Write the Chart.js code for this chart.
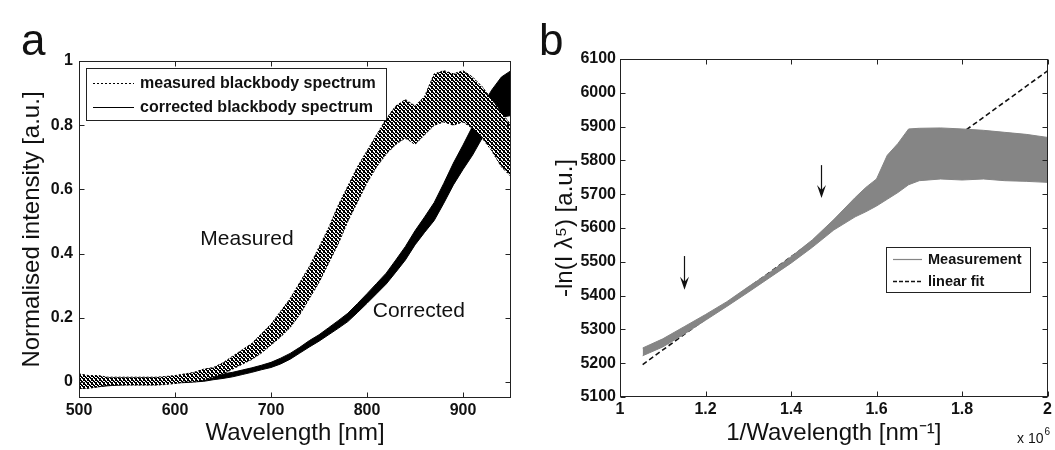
<!DOCTYPE html>
<html>
<head>
<meta charset="utf-8">
<script src="https://cdn.jsdelivr.net/npm/chart.js@4/dist/chart.umd.min.js"></script>
<style>
  html, body { margin: 0; padding: 0; background: #fff; }
  #wrap { position: relative; width: 1055px; height: 450px; overflow: hidden; }
  #chart-a { position: absolute; left: 0; top: 0; }
  #chart-b { position: absolute; left: 530px; top: 0; }
</style>
</head>
<body>
<div id="wrap">
  <canvas id="chart-a" width="530" height="450"></canvas>
  <canvas id="chart-b" width="525" height="450"></canvas>
</div>
<script>
// ---- panel a: blackbody spectrum (envelopes of the noisy traces) ----
const wavelengths = [500, 510, 520, 530, 540, 550, 560, 570, 580, 590,
  600, 610, 620, 630, 640, 650, 660, 670, 680, 690,
  700, 710, 720, 730, 740, 750, 760, 770, 780, 790,
  800, 810, 820, 830, 840, 850, 860, 870, 880, 890,
  900, 910, 920, 930, 940, 950];
const measuredLow = [-0.02, -0.02, -0.015, -0.01, -0.01, -0.01, -0.01, -0.01, -0.01, -0.008,
  -0.005, 0.0, 0.0, 0.005, 0.015, 0.025, 0.04, 0.055, 0.07, 0.09,
  0.115, 0.14, 0.17, 0.21, 0.26, 0.31, 0.37, 0.43, 0.5, 0.56,
  0.62, 0.67, 0.71, 0.74, 0.76, 0.74, 0.77, 0.8, 0.81, 0.8,
  0.81, 0.79, 0.76, 0.72, 0.67, 0.64];
const measuredHigh = [0.025, 0.02, 0.02, 0.015, 0.015, 0.015, 0.015, 0.015, 0.015, 0.017,
  0.02, 0.025, 0.03, 0.04, 0.045, 0.06, 0.08, 0.1, 0.12, 0.15,
  0.18, 0.22, 0.26, 0.31, 0.36, 0.42, 0.48, 0.55, 0.61, 0.67,
  0.72, 0.77, 0.82, 0.86, 0.88, 0.86, 0.89, 0.96, 0.97, 0.96,
  0.97, 0.95, 0.92, 0.88, 0.84, 0.8];
const correctedLow = [-0.02, -0.018, -0.015, -0.012, -0.01, -0.008, -0.008, -0.006, -0.005, -0.004,
  -0.003, -0.002, 0.0, 0.002, 0.007, 0.011, 0.016, 0.023, 0.03, 0.038,
  0.045, 0.056, 0.071, 0.09, 0.109, 0.127, 0.147, 0.167, 0.188, 0.216,
  0.245, 0.275, 0.305, 0.342, 0.38, 0.427, 0.466, 0.503, 0.557, 0.614,
  0.662, 0.707, 0.76, 0.8, 0.825, 0.83];
const correctedHigh = [0.02, 0.018, 0.015, 0.012, 0.012, 0.012, 0.012, 0.013, 0.013, 0.013,
  0.014, 0.015, 0.015, 0.017, 0.02, 0.025, 0.03, 0.037, 0.044, 0.052,
  0.061, 0.074, 0.089, 0.108, 0.129, 0.147, 0.169, 0.191, 0.214, 0.244,
  0.275, 0.307, 0.339, 0.38, 0.422, 0.471, 0.514, 0.559, 0.619, 0.682,
  0.738, 0.797, 0.86, 0.91, 0.95, 0.97];
const xTicksA = [500, 600, 700, 800, 900];
const yTicksA = [0, 0.2, 0.4, 0.6, 0.8, 1];
const legendA = ['measured blackbody spectrum', 'corrected blackbody spectrum'];
const notesA = [{text: 'Measured', x: 675, y: 0.445}, {text: 'Corrected', x: 854, y: 0.221}];

// ---- panel b: -ln(I lambda^5) against 1/wavelength ----
const invWavelength = [1.053, 1.10, 1.15, 1.20, 1.25, 1.30, 1.35, 1.40, 1.45, 1.50,
  1.55, 1.575, 1.60, 1.625, 1.65, 1.675, 1.70, 1.75, 1.80, 1.85, 1.90, 1.95, 2.00];
const measurementLow = [5222, 5248, 5286, 5327, 5368, 5410, 5453, 5496, 5543, 5594,
  5633, 5648, 5665, 5685, 5705, 5728, 5740, 5745, 5742, 5745, 5740, 5738, 5735];
const measurementHigh = [5245, 5272, 5308, 5344, 5382, 5426, 5468, 5515, 5565, 5625,
  5690, 5720, 5745, 5815, 5850, 5893, 5895, 5896, 5893, 5889, 5883, 5877, 5868];
const fitX = [1.053, 2.0];
const fitY = [5196, 6065];
const xTicksB = [1, 1.2, 1.4, 1.6, 1.8, 2];
const yTicksB = [5100, 5200, 5300, 5400, 5500, 5600, 5700, 5800, 5900, 6000, 6100];
const arrowsB = [{x: 1.15, from: 5517, to: 5417}, {x: 1.47, from: 5786, to: 5689}];
const legendB = ['Measurement', 'linear fit'];

const FONT = '"Liberation Sans", Arial, sans-serif';
const INK = '#111';
const tickFont = {family: FONT, size: 16, weight: 'bold'};
const titleFont = {family: FONT, size: 24};

const pts = (xs, ys) => xs.map((x, i) => ({x: x, y: ys[i]}));

// dotted texture for the measured (dotted-line) band
function speckle() {
  const c = document.createElement('canvas');
  c.width = 4; c.height = 4;
  const g = c.getContext('2d');
  g.fillStyle = '#fff';
  g.fillRect(0, 0, 4, 4);
  g.fillStyle = '#000';
  [[0, 0], [1, 0], [3, 0], [1, 1], [2, 1], [0, 2], [2, 2], [3, 2], [0, 3], [3, 3]]
    .forEach(p => g.fillRect(p[0], p[1], 1, 1));
  return g.createPattern(c, 'repeat');
}

// box around the plot with inward ticks on all four sides
const frame = {
  id: 'frame',
  afterDatasetsDraw(chart, args, opts) {
    const {ctx, chartArea: a} = chart;
    const l = Math.round(a.left) + 0.5, r = Math.round(a.right) - 0.5;
    const t = Math.round(a.top) + 0.5, b = Math.round(a.bottom) - 0.5;
    ctx.save();
    ctx.strokeStyle = '#222';
    ctx.lineWidth = 1;
    ctx.setLineDash([]);
    ctx.strokeRect(l, t, r - l, b - t);
    ctx.beginPath();
    opts.xTicks.forEach(v => {
      const px = Math.round(chart.scales.x.getPixelForValue(v)) + 0.5;
      ctx.moveTo(px, b); ctx.lineTo(px, b - 5);
      ctx.moveTo(px, t); ctx.lineTo(px, t + 5);
    });
    opts.yTicks.forEach(v => {
      const py = Math.round(chart.scales.y.getPixelForValue(v)) + 0.5;
      ctx.moveTo(l, py); ctx.lineTo(l + 5, py);
      ctx.moveTo(r, py); ctx.lineTo(r - 5, py);
    });
    ctx.stroke();
    ctx.restore();
  }
};

// legend box, panel letter and free text
const extras = {
  id: 'extras',
  afterDraw(chart, args, opts) {
    const ctx = chart.ctx;
    ctx.save();
    ctx.fillStyle = INK;
    ctx.textBaseline = 'alphabetic';
    ctx.textAlign = 'left';
    ctx.font = '44px ' + FONT;
    ctx.fillText(opts.letter.text, opts.letter.x, opts.letter.y);

    (opts.notes || []).forEach(n => {
      ctx.font = '21px ' + FONT;
      ctx.textAlign = 'left';
      ctx.textBaseline = 'middle';
      const w = ctx.measureText(n.text).width;
      ctx.fillText(n.text, chart.scales.x.getPixelForValue(n.x) - w / 2, chart.scales.y.getPixelForValue(n.y));
    });

    (opts.arrows || []).forEach(ar => {
      const px = Math.round(chart.scales.x.getPixelForValue(ar.x)) + 0.5;
      const y0 = chart.scales.y.getPixelForValue(ar.from);
      const y1 = chart.scales.y.getPixelForValue(ar.to);
      ctx.strokeStyle = INK;
      ctx.lineWidth = 1.2;
      ctx.beginPath();
      ctx.moveTo(px, y0); ctx.lineTo(px, y1 - 6);
      ctx.stroke();
      ctx.beginPath();
      ctx.moveTo(px - 4.5, y1 - 13);
      ctx.lineTo(px, y1 - 8);
      ctx.lineTo(px + 4.5, y1 - 13);
      ctx.lineTo(px, y1);
      ctx.closePath();
      ctx.fill();
    });

    const L = opts.legend;
    if (L) {
      ctx.fillStyle = '#fff';
      ctx.fillRect(L.x, L.y, L.w, L.h);
      ctx.strokeStyle = '#222';
      ctx.lineWidth = 1;
      ctx.setLineDash([]);
      ctx.strokeRect(L.x + 0.5, L.y + 0.5, L.w, L.h);
      L.items.forEach((it, i) => {
        const y = L.rowY[i];
        ctx.strokeStyle = it.color;
        ctx.lineWidth = it.width;
        ctx.setLineDash(it.dash);
        ctx.beginPath();
        ctx.moveTo(L.sx0, y + 0.5); ctx.lineTo(L.sx1, y + 0.5);
        ctx.stroke();
        ctx.setLineDash([]);
        ctx.fillStyle = INK;
        ctx.font = 'bold ' + L.size + 'px ' + FONT;
        ctx.textBaseline = 'middle';
        ctx.fillText(it.label, L.tx, y + 1);
      });
    }

    if (opts.exponent) {
      const e = opts.exponent;
      ctx.fillStyle = INK;
      ctx.textBaseline = 'alphabetic';
      ctx.font = '14px ' + FONT;
      ctx.fillText('x 10', e.x, e.y);
      const w = ctx.measureText('x 10').width;
      ctx.font = '10px ' + FONT;
      ctx.fillText('6', e.x + w + 1, e.y - 8);
    }
    ctx.restore();
  }
};

const chartA = new Chart(document.getElementById('chart-a').getContext('2d'), {
  type: 'line',
  data: {
    datasets: [
      {
        label: 'measured low',
        data: pts(wavelengths, measuredLow),
        borderColor: '#000', borderWidth: 1, borderDash: [2, 2],
        pointRadius: 0, fill: false
      },
      {
        label: legendA[0],
        data: pts(wavelengths, measuredHigh),
        borderColor: '#000', borderWidth: 1, borderDash: [2, 2],
        backgroundColor: speckle(),
        pointRadius: 0, fill: '-1'
      },
      {
        label: 'corrected low',
        data: pts(wavelengths, correctedLow),
        borderColor: '#000', borderWidth: 1,
        pointRadius: 0, fill: false
      },
      {
        label: legendA[1],
        data: pts(wavelengths, correctedHigh),
        borderColor: '#000', borderWidth: 1,
        backgroundColor: '#000',
        pointRadius: 0, fill: '-1'
      }
    ]
  },
  options: {
    responsive: false,
    animation: false,
    events: [],
    layout: { padding: { left: 0, right: 19, top: 61, bottom: 0 } },
    scales: {
      x: {
        type: 'linear', min: 500, max: 950,
        afterBuildTicks: s => { s.ticks = xTicksA.map(v => ({value: v})); },
        afterFit: s => { s.height = 52; },
        grid: { display: false, drawTicks: false },
        border: { display: false },
        ticks: { padding: 3, color: INK, font: tickFont, maxRotation: 0, autoSkip: false, callback: v => String(v) },
        title: { display: true, text: 'Wavelength [nm]', color: INK, font: titleFont, padding: { top: 0, bottom: 2.6 } }
      },
      y: {
        type: 'linear', min: -0.05, max: 1,
        afterBuildTicks: s => { s.ticks = yTicksA.map(v => ({value: v})); },
        afterFit: s => { s.width = 79; },
        grid: { display: false, drawTicks: false },
        border: { display: false },
        ticks: { padding: 6, color: INK, font: tickFont, callback: v => String(v) },
        title: { display: true, text: 'Normalised intensity [a.u.]', color: INK, font: titleFont, padding: { top: 17.6, bottom: 0 } }
      }
    },
    plugins: {
      legend: { display: false },
      tooltip: { enabled: false },
      frame: { xTicks: xTicksA, yTicks: yTicksA },
      extras: {
        letter: { text: 'a', x: 21, y: 55 },
        notes: notesA,
        legend: {
          x: 86, y: 68, w: 300, h: 52, sx0: 93, sx1: 134, tx: 140, rowY: [83, 107], size: 16,
          items: [
            { label: legendA[0], color: '#000', width: 1, dash: [2, 2] },
            { label: legendA[1], color: '#000', width: 1.2, dash: [] }
          ]
        }
      }
    }
  },
  plugins: [frame, extras]
});

const chartB = new Chart(document.getElementById('chart-b').getContext('2d'), {
  type: 'line',
  data: {
    datasets: [
      {
        label: 'measurement low',
        data: pts(invWavelength, measurementLow),
        borderColor: '#858585', borderWidth: 1,
        pointRadius: 0, fill: false
      },
      {
        label: legendB[0],
        data: pts(invWavelength, measurementHigh),
        borderColor: '#858585', borderWidth: 1,
        backgroundColor: '#858585',
        pointRadius: 0, fill: '-1'
      },
      {
        label: legendB[1],
        data: pts(fitX, fitY),
        borderColor: '#111', borderWidth: 1.6, borderDash: [5, 3],
        pointRadius: 0, fill: false
      }
    ]
  },
  options: {
    responsive: false,
    animation: false,
    events: [],
    layout: { padding: { left: 0, right: 6, top: 59, bottom: 0 } },
    scales: {
      x: {
        type: 'linear', min: 1, max: 2,
        afterBuildTicks: s => { s.ticks = xTicksB.map(v => ({value: v})); },
        afterFit: s => { s.height = 53; },
        grid: { display: false, drawTicks: false },
        border: { display: false },
        ticks: { padding: 3, color: INK, font: tickFont, maxRotation: 0, autoSkip: false, callback: v => String(v) },
        title: { display: true, text: '1/Wavelength [nm\u207B\u00B9]', color: INK, font: titleFont, padding: { top: 0, bottom: 2.6 } }
      },
      y: {
        type: 'linear', min: 5100, max: 6100,
        afterBuildTicks: s => { s.ticks = yTicksB.map(v => ({value: v})); },
        afterFit: s => { s.width = 90; },
        grid: { display: false, drawTicks: false },
        border: { display: false },
        ticks: { padding: 4, color: INK, font: tickFont, callback: v => String(v) },
        title: { display: true, text: '-ln(I \u03BB\u2075) [a.u.]', color: INK, font: titleFont, padding: { top: 20.6, bottom: 0 } }
      }
    },
    plugins: {
      legend: { display: false },
      tooltip: { enabled: false },
      frame: { xTicks: xTicksB, yTicks: yTicksB },
      extras: {
        letter: { text: 'b', x: 9, y: 55 },
        arrows: arrowsB,
        exponent: { x: 487, y: 443 },
        legend: {
          x: 356, y: 247, w: 144, h: 45, sx0: 363, sx1: 392, tx: 398, rowY: [259, 281], size: 14.5,
          items: [
            { label: legendB[0], color: '#858585', width: 1.2, dash: [] },
            { label: legendB[1], color: '#111', width: 1.4, dash: [4, 2] }
          ]
        }
      }
    }
  },
  plugins: [frame, extras]
});
</script>
</body>
</html>
